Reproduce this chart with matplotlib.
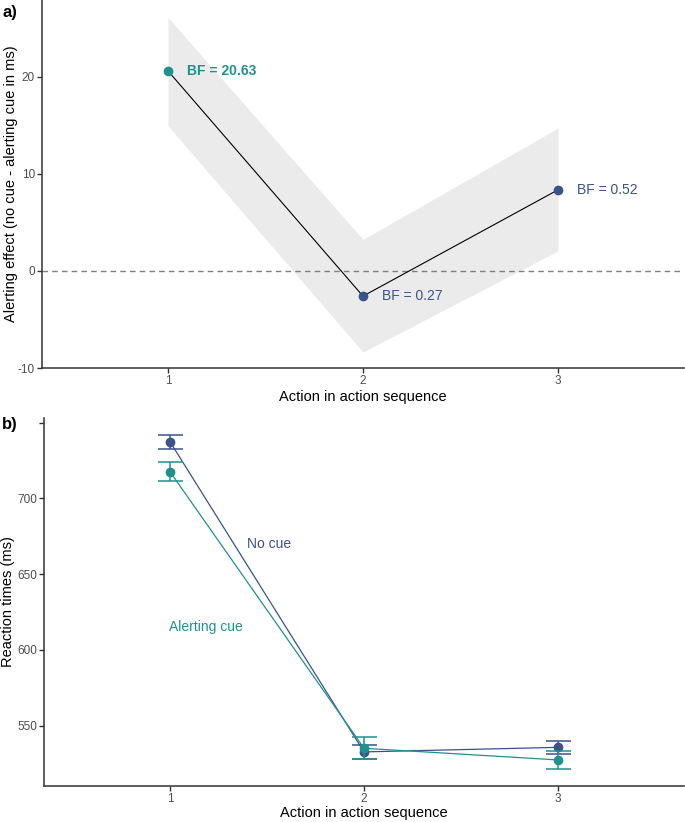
import matplotlib.pyplot as plt

plt.rcParams["font.family"] = ["Liberation Sans", "DejaVu Sans"]
plt.rcParams["axes.unicode_minus"] = False

# panel a: alerting effect per action
actions = [1, 2, 3]
effect = [20.6, -2.6, 8.35]
effect_lo = [14.95, -8.35, 2.06]
effect_hi = [26.1, 3.24, 14.7]
bf_labels = ["BF = 20.63", "BF = 0.27", "BF = 0.52"]
bf_bold = [True, False, False]

# panel b: reaction times per condition
rt_nocue = [737.3, 532.7, 535.7]
rt_nocue_err = [4.8, 4.6, 4.2]
rt_alert = [717.5, 535.1, 527.4]
rt_alert_err = [6.4, 7.3, 6.1]

blue = "#3B528B"
teal = "#21918C"
axis_col = "#333333"
tick_col = "#4D4D4D"

fig = plt.figure(figsize=(6.85, 8.22), dpi=100)
ax_a = fig.add_axes([0.0613, 0.5523, 0.9372, 0.4477])
ax_b = fig.add_axes([0.0642, 0.0438, 0.9343, 0.4477])

# ---- panel a ----
ax_a.fill_between(actions, effect_lo, effect_hi, color="#EBEBEB", lw=0, zorder=1)
ax_a.axhline(0, color="#7F7F7F", lw=1, ls=(0, (4, 3)), zorder=2)
ax_a.plot(actions, effect, color="black", lw=0.8, zorder=3)
pt_cols = [teal, blue, blue]
for x, y, c, lab, b in zip(actions, effect, pt_cols, bf_labels, bf_bold):
    ax_a.plot(x, y, "o", color=c, ms=6, zorder=4)
    ax_a.text(x + 0.1, y, lab, color=c, fontsize=10,
              fontweight="bold" if b else "normal", va="center", ha="left")
ax_a.set_xlim(0.354, 3.646)
ax_a.set_ylim(-10, 27.9)
ax_a.set_yticks([-10, 0, 10, 20])
ax_a.set_xticks(actions)
ax_a.set_xlabel("Action in action sequence", fontsize=10.5, labelpad=2)
ax_a.set_ylabel("Alerting effect (no cue - alerting cue in ms)", fontsize=10.5)
ax_a.yaxis.set_label_coords(-0.038, 0.5)

# ---- panel b ----
ax_b.plot(actions, rt_nocue, color=blue, lw=0.9, zorder=2)
ax_b.plot(actions, rt_alert, color=teal, lw=0.9, zorder=2)
ax_b.errorbar(actions, rt_nocue, yerr=rt_nocue_err, fmt="o", color=blue, ms=6,
              capsize=9, elinewidth=1.1, capthick=1.1, zorder=3)
ax_b.errorbar(actions, rt_alert, yerr=rt_alert_err, fmt="o", color=teal, ms=6,
              capsize=9, elinewidth=1.1, capthick=1.1, zorder=4)
ax_b.text(1.51, 669.7, "No cue", color=blue, fontsize=10, ha="center", va="center")
ax_b.text(1.186, 614.9, "Alerting cue", color=teal, fontsize=10, ha="center",
          va="center")
ax_b.set_xlim(0.35, 3.65)
ax_b.set_ylim(510.2, 753)
ax_b.set_yticks([550, 600, 650, 700, 750])
ax_b.set_yticklabels(["550", "600", "650", "700", ""])
ax_b.set_xticks(actions)
ax_b.set_xlabel("Action in action sequence", fontsize=10.5, labelpad=1)
ax_b.set_ylabel("Reaction times (ms)", fontsize=10.5)
ax_b.yaxis.set_label_coords(-0.045, 0.5)

for ax in (ax_a, ax_b):
    for s in ("top", "right"):
        ax.spines[s].set_visible(False)
    for s in ("left", "bottom"):
        ax.spines[s].set_color(axis_col)
        ax.spines[s].set_linewidth(1.1)
    ax.tick_params(colors=axis_col, labelcolor=tick_col, labelsize=8.5,
                   length=3.5, width=1, pad=1.5)

fig.text(0.003, 0.985, "a)", fontsize=12, fontweight="bold", va="center")
fig.text(0.003, 0.483, "b)", fontsize=12, fontweight="bold", va="center")

fig.savefig("out.png", dpi=100)
